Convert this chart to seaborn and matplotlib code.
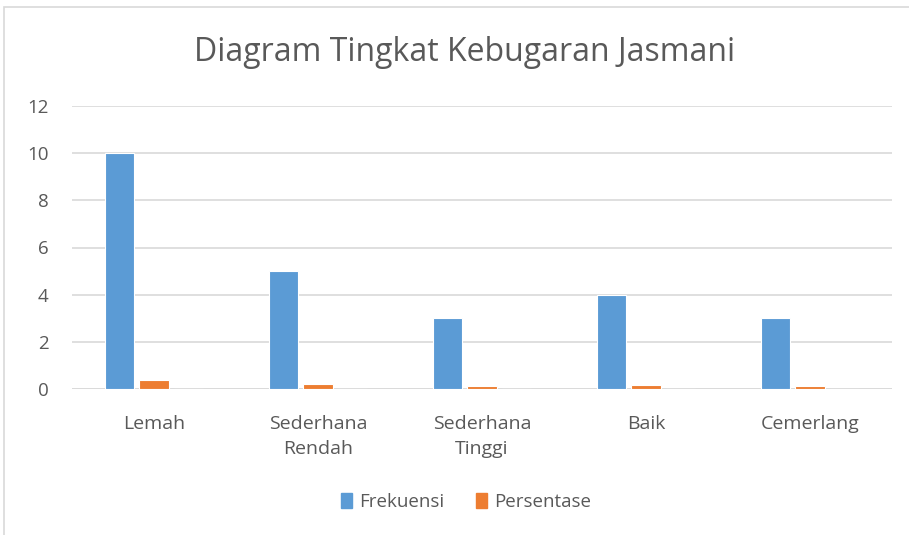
import matplotlib
matplotlib.use("Agg")
import matplotlib.pyplot as plt
import matplotlib.patches as mpatches
import seaborn as sns
import pandas as pd

categories = ["Lemah", "Sederhana\nRendah", "Sederhana\nTinggi", "Baik", "Cemerlang"]
frekuensi = [10, 5, 3, 4, 3]
persentase = [0.40, 0.20, 0.12, 0.16, 0.12]
blank = [0, 0, 0, 0, 0]
series_names = ["Frekuensi", "Persentase", " "]
yticks = [0, 2, 4, 6, 8, 10, 12]

df = pd.DataFrame({
    "Kategori": categories * 3,
    "Nilai": frekuensi + persentase + blank,
    "Seri": [series_names[0]] * 5 + [series_names[1]] * 5 + [series_names[2]] * 5,
})

sns.set_theme(style="white")
plt.rcParams["font.family"] = ["Open Sans", "DejaVu Sans"]
text_color = "#595959"

fig = plt.figure(figsize=(9.09, 5.35), dpi=100)
ax = fig.add_axes([72 / 909, 1 - 389 / 535, 820 / 909, 283 / 535])

palette = {"Frekuensi": "#5B9BD5", "Persentase": "#ED7D31", " ": "#FFFFFF"}
sns.barplot(data=df, x="Kategori", y="Nilai", hue="Seri", hue_order=series_names,
            palette=palette, width=0.63, gap=0.14, ax=ax, legend=False,
            edgecolor="white", linewidth=0.8, saturation=1)

ax.set_ylim(0, 12)
ax.set_yticks(yticks)
ax.set_yticklabels([str(v) for v in yticks], fontsize=13.5, color=text_color)
ax.set_xlabel("")
ax.set_ylabel("")
ax.tick_params(axis="x", length=0, pad=19, labelsize=14, colors=text_color)
ax.tick_params(axis="y", length=0, pad=17, colors=text_color)
for lbl in ax.get_xticklabels():
    lbl.set_linespacing(1.45)
ax.grid(axis="y", color="#D9D9D9", linewidth=1.2)
ax.set_axisbelow(True)
for s in ax.spines.values():
    s.set_visible(False)
ax.axhline(0, color="#D9D9D9", linewidth=1.2, zorder=0.5)

fig.text(465 / 909, 1 - 52 / 535, "Diagram Tingkat Kebugaran Jasmani", ha="center", va="center",
         fontsize=23, color=text_color)

handles = [mpatches.Patch(color=palette[n], label=n) for n in series_names[:2]]
fig.legend(handles=handles, loc="center", bbox_to_anchor=(466 / 909, 1 - 502 / 535), ncol=2,
           frameon=False, fontsize=13.5, labelcolor=text_color, handlelength=0.6, handleheight=0.8,
           handletextpad=0.35, columnspacing=1.7)

frame = mpatches.Rectangle((4 / 909, -0.1), 1.2, 1 - 7 / 535 + 0.1, transform=fig.transFigure,
                           fill=False, edgecolor="#D9D9D9", linewidth=1.2)
fig.add_artist(frame)

fig.savefig("out.png", dpi=100, facecolor="white")
